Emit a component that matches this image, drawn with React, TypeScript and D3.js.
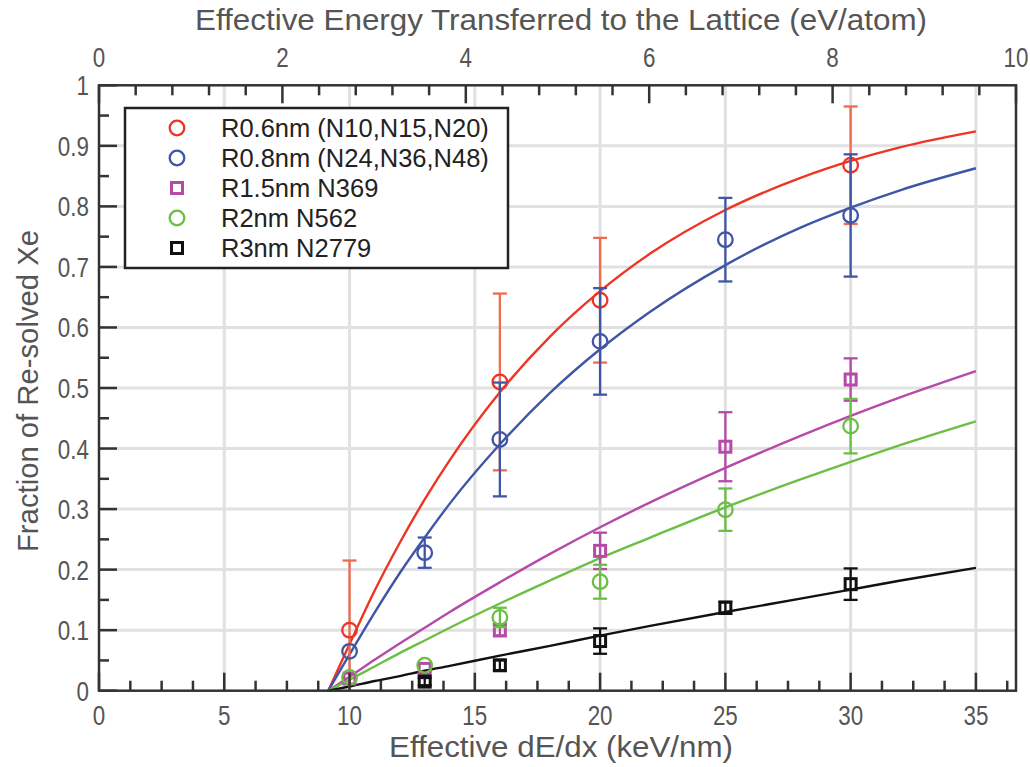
import React from "react";
import * as d3 from "d3";

// ---- data ----
const seriesNames = ["R0.6nm (N10,N15,N20)", "R0.8nm (N24,N36,N48)", "R1.5nm N369", "R2nm N562", "R3nm N2779"];
const seriesColors = ["#ee3524", "#3f56a6", "#b54aa8", "#6cbf45", "#111111"];
const errColors = ["#f06a50", "#3f56a6", "#b54aa8", "#6cbf45", "#111111"];
const seriesShapes = ["circle", "circle", "square", "circle", "square"];

// points: x (keV/nm), y, err
const redX = [10, 16, 20, 30];
const redY = [0.10, 0.51, 0.645, 0.868];
const redE = [0.115, 0.146, 0.103, 0.097];

const blueX = [10, 13, 16, 20, 25, 30];
const blueY = [0.065, 0.228, 0.415, 0.577, 0.745, 0.785];
const blueE = [0.0, 0.025, 0.094, 0.088, 0.069, 0.101];

const magX = [10, 13, 16, 20, 25, 30];
const magY = [0.02, 0.036, 0.10, 0.231, 0.403, 0.514];
const magE = [0.0, 0.0, 0.01, 0.030, 0.057, 0.035];

const greenX = [10, 13, 16, 20, 25, 30];
const greenY = [0.022, 0.042, 0.121, 0.18, 0.299, 0.437];
const greenE = [0.0, 0.0, 0.016, 0.028, 0.035, 0.045];

const blackX = [13, 16, 20, 25, 30];
const blackY = [0.015, 0.042, 0.082, 0.137, 0.176];
const blackE = [0.006, 0.008, 0.021, 0.010, 0.026];

// fitted curves
const curveX = [9.15, 10, 11, 12, 13, 14, 16, 18, 20, 22, 25, 28, 30, 32, 35];
const redCurve = [0, 0.077, 0.165, 0.244, 0.316, 0.381, 0.493, 0.585, 0.660, 0.722, 0.794, 0.847, 0.875, 0.898, 0.924];
const blueCurve = [0, 0.060, 0.129, 0.194, 0.253, 0.309, 0.407, 0.492, 0.564, 0.626, 0.703, 0.765, 0.798, 0.827, 0.863];
const magCurve = [0, 0.023, 0.051, 0.078, 0.104, 0.130, 0.179, 0.226, 0.270, 0.311, 0.368, 0.421, 0.454, 0.485, 0.528];
const greenCurve = [0, 0.018, 0.040, 0.062, 0.083, 0.104, 0.144, 0.182, 0.219, 0.253, 0.303, 0.349, 0.378, 0.406, 0.445];
const blackCurve = [0, 0.007, 0.016, 0.024, 0.033, 0.041, 0.058, 0.074, 0.091, 0.107, 0.130, 0.152, 0.167, 0.182, 0.203];

const bottomTicks = [0, 5, 10, 15, 20, 25, 30, 35];
const topTicks = [0, 2, 4, 6, 8, 10];
const yTicks = [0, 0.1, 0.2, 0.3, 0.4, 0.5, 0.6, 0.7, 0.8, 0.9, 1];
const yTickLabels = ["0", "0.1", "0.2", "0.3", "0.4", "0.5", "0.6", "0.7", "0.8", "0.9", "1"];

const W = 1030, H = 767;
const L = 99, R = 1016, T = 85.3, B = 690.7;

export default function App() {
  const x = d3.scaleLinear().domain([0, 36.6]).range([L, R]);
  const xTop = d3.scaleLinear().domain([0, 10]).range([L, R]);
  const y = d3.scaleLinear().domain([0, 1]).range([B, T]);

  const points = [
    { xs: redX, ys: redY, es: redE },
    { xs: blueX, ys: blueY, es: blueE },
    { xs: magX, ys: magY, es: magE },
    { xs: greenX, ys: greenY, es: greenE },
    { xs: blackX, ys: blackY, es: blackE },
  ];
  const curves = [redCurve, blueCurve, magCurve, greenCurve, blackCurve];
  const line = d3.line<[number, number]>().x(d => x(d[0])).y(d => y(d[1])).curve(d3.curveMonotoneX);

  const font = "'Liberation Sans', Arial, sans-serif";
  const textGray = "#555";
  const SX = 0.8;

  const minorBottom = d3.range(0, 36.6, 1.25);
  const minorTop = d3.range(0, 10.01, 0.4);
  const minorY = d3.range(0, 1.001, 0.05);

  const narrow = (key: string, tx: number, ty: number, s: string, anchor: string) => (
    <text key={key} transform={`translate(${tx},${ty}) scale(${SX},1)`} textAnchor={anchor} fontFamily={font} fontSize={28} fill={textGray}>{s}</text>
  );

  const marker = (shape: string, cx: number, cy: number, color: string, key: string) =>
    shape === "circle" ? (
      <circle key={key} cx={cx} cy={cy} r={7.3} fill="none" stroke={color} strokeWidth={2.3} />
    ) : (
      <rect key={key} x={cx - 5.5} y={cy - 5.5} width={11} height={11} fill="none" stroke={color} strokeWidth={3} />
    );

  return (
    <svg width={W} height={H} style={{ position: "absolute", left: 0, top: 0, background: "#fff" }}>
      <rect x={0} y={0} width={W} height={H} fill="#fff" />
      {/* grid */}
      {bottomTicks.filter(t => t > 0).map(t => (
        <line key={"gx" + t} x1={x(t)} x2={x(t)} y1={T} y2={B} stroke="#e1e1e1" strokeWidth={3} />
      ))}
      {yTicks.filter(t => t > 0 && t < 1).map(t => (
        <line key={"gy" + t} x1={L} x2={R} y1={y(t)} y2={y(t)} stroke="#e1e1e1" strokeWidth={3} />
      ))}

      {/* curves */}
      {curves.map((c, i) => (
        <path key={"c" + i} d={line(curveX.map((xv, j) => [xv, c[j]] as [number, number])) || ""} fill="none" stroke={seriesColors[i]} strokeWidth={2.4} />
      ))}

      {/* points with error bars */}
      {points.map((s, i) => (
        <g key={"s" + i}>
          {s.xs.map((xv, j) =>
            s.es[j] > 0 ? (
              <g key={"e" + j} stroke={errColors[i]} strokeWidth={2.3}>
                <line x1={x(xv)} x2={x(xv)} y1={y(Math.max(0, s.ys[j] - s.es[j]))} y2={y(s.ys[j] + s.es[j])} />
                <line x1={x(xv) - 7} x2={x(xv) + 7} y1={y(s.ys[j] + s.es[j])} y2={y(s.ys[j] + s.es[j])} />
                {s.ys[j] - s.es[j] > 0 && (
                  <line x1={x(xv) - 7} x2={x(xv) + 7} y1={y(s.ys[j] - s.es[j])} y2={y(s.ys[j] - s.es[j])} />
                )}
              </g>
            ) : null
          )}
          {s.xs.map((xv, j) => marker(seriesShapes[i], x(xv), y(s.ys[j]), seriesColors[i], "m" + j))}
        </g>
      ))}

      {/* frame */}
      <rect x={L} y={T} width={R - L} height={B - T} fill="none" stroke="#333" strokeWidth={2.5} />
      {/* ticks */}
      {minorBottom.map((t, i) => (
        <line key={"bt" + i} x1={x(t)} x2={x(t)} y1={B} y2={B - (Math.abs(t % 5) < 1e-6 ? 18 : 10)} stroke="#333" strokeWidth={2.5} />
      ))}
      {minorTop.map((t, i) => {
        const major = Math.abs(t / 2 - Math.round(t / 2)) < 1e-6;
        return <line key={"tt" + i} x1={xTop(t)} x2={xTop(t)} y1={T} y2={T + (major ? 18 : 10)} stroke="#333" strokeWidth={2.5} />;
      })}
      {minorY.map((t, i) => (
        <line key={"yt" + i} x1={L} x2={L + (i % 2 === 0 ? 18 : 10)} y1={y(t)} y2={y(t)} stroke="#333" strokeWidth={2.5} />
      ))}

      {/* tick labels */}
      {bottomTicks.map(t => narrow("bl" + t, x(t), 725, String(t), "middle"))}
      {topTicks.map(t => narrow("tl" + t, xTop(t), 67, String(t), "middle"))}
      {yTicks.map((t, i) => narrow("yl" + i, 89, y(t) + 10, yTickLabels[i], "end"))}

      {/* axis titles */}
      <text x={561} y={757} textAnchor="middle" fontFamily={font} fontSize={29} fill={textGray} textLength={344} lengthAdjust="spacingAndGlyphs">Effective dE/dx (keV/nm)</text>
      <text x={561} y={30} textAnchor="middle" fontFamily={font} fontSize={30} fill={textGray} textLength={732} lengthAdjust="spacingAndGlyphs">Effective Energy Transferred to the Lattice (eV/atom)</text>
      <text transform={`translate(38,391) rotate(-90)`} textAnchor="middle" fontFamily={font} fontSize={29} fill={textGray} textLength={322} lengthAdjust="spacingAndGlyphs">Fraction of Re-solved Xe</text>

      {/* legend */}
      <rect x={125} y={108} width={383} height={160} fill="#fff" stroke="#222" strokeWidth={2.5} />
      {seriesNames.map((n, i) => (
        <g key={"lg" + i}>
          {marker(seriesShapes[i], 177, 128 + i * 30, seriesColors[i], "lm" + i)}
          <text x={221} y={128 + i * 30 + 9} fontFamily={font} fontSize={25.5} fill="#222">{n}</text>
        </g>
      ))}
    </svg>
  );
}
